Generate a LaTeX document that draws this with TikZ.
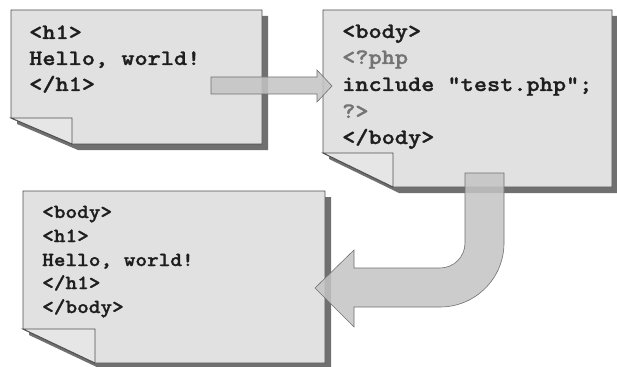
\documentclass[tikz,border=0pt]{standalone}
\usepackage{fontspec}
\newfontfamily\codefont{lmmonolt10-bold.otf}[FakeStretch=1.14, FakeBold=1.3]
\newfontfamily\smallcodefont{lmmonolt10-bold.otf}[FakeStretch=1.11, FakeBold=1.3]
\definecolor{pagefill}{HTML}{E1E1E1}
\definecolor{flapfill}{HTML}{E6E6E6}
\definecolor{shadowgray}{HTML}{707070}
\definecolor{edge}{HTML}{505050}
\definecolor{arrowfill}{HTML}{C4C4C4}
\definecolor{arrowedge}{HTML}{707070}
\definecolor{codeink}{HTML}{1E1E1E}
\definecolor{phpink}{HTML}{737373}
\tikzset{
  pageshadow/.style={fill=shadowgray},
  page/.style={fill=pagefill, draw=edge, line width=0.9pt},
  flap/.style={fill=flapfill, draw=edge, line width=0.9pt},
  bigarrow/.style={fill=arrowfill, fill opacity=0.85, draw=arrowedge, line width=0.6pt},
  code/.style={font=\codefont\fontsize{22}{26}\selectfont, text=codeink, inner sep=0pt, anchor=base west},
  smallcode/.style={code, font=\smallcodefont\fontsize{20}{24}\selectfont},
  php/.style={text=phpink},
}
% sheet of paper with a folded lower-left corner:
% left, top, right, bottom, fold x, fold y
\newcommand\docpage[6]{%
  \fill[pageshadow] (#1+6,#2+6) -- (#3+6,#2+6) -- (#3+6,#4+6) -- (#5+6,#4+6) -- (#1+6,#6+6) -- cycle;
  \draw[page] (#1,#2) -- (#3,#2) -- (#3,#4) -- (#5,#4) -- (#1,#6) -- cycle;
  \draw[flap] (#1,#6) -- (#5,#6) -- (#5,#4) -- cycle;
}
\begin{document}
\begin{tikzpicture}[x=1pt, y=-1pt]
  \useasboundingbox[fill=white] (0,0) rectangle (617,366);

  % source page
  \docpage{11}{10}{262}{144}{72}{118}
  \node[code] (a1) at (29,39) {<h1>};
  \node[code] (a2) at (29,65) {Hello, world!};
  \node[code] (a3) at (29,91) {</h1>};

  % page with the include
  \docpage{323}{10}{612}{187}{393}{153}
  \node[code] (b1) at (342,38) {<body>};
  \node[code, php] (b2) at (342,64) {<?php};
  \node[code] (b3) at (342,91) {include "test.php";};
  \node[code, php] (b4) at (342,118) {?>};
  \node[code] (b5) at (342,144) {</body>};

  % straight block arrow
  \draw[bigarrow] (211,77) -- (317,77) -- (317,70) -- (332,86) -- (317,102)
    -- (317,94) -- (211,94) -- cycle;

  % resulting page
  \docpage{23}{191}{325}{363}{95}{329}
  \node[smallcode] (c1) at (42,218) {<body>};
  \node[smallcode] (c2) at (42,242) {<h1>};
  \node[smallcode] (c3) at (42,266) {Hello, world!};
  \node[smallcode] (c4) at (42,289) {</h1>};
  \node[smallcode] (c5) at (42,313) {</body>};

  % bent block arrow
  \draw[bigarrow] (465,173) -- (504,173) -- (504,243)
    arc[start angle=0, end angle=90, radius=64]
    -- (354,307) -- (354,327) -- (315,288) -- (354,250) -- (354,268) -- (440,268)
    arc[start angle=90, end angle=0, radius=25] -- cycle;
\end{tikzpicture}
\end{document}
